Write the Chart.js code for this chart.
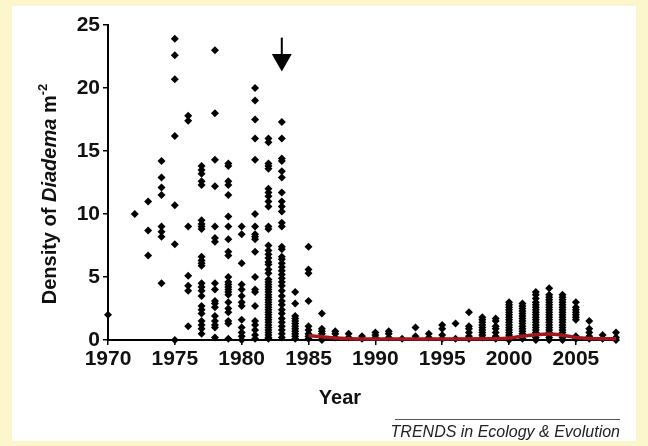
<!DOCTYPE html>
<html><head><meta charset="utf-8">
<script src="https://cdn.jsdelivr.net/npm/chart.js@4"></script>
<style>
html,body{margin:0;padding:0;background:#FBF6CB;overflow:hidden;}
#wrap{position:absolute;left:0;top:0;width:648px;height:446px;background:#FBF6CB;}
#panel{position:absolute;left:12px;top:6px;width:624px;height:435px;background:#ffffff;}
canvas{position:absolute;left:0;top:0;}
</style></head><body>
<div id="wrap"><div id="panel"></div><canvas id="c" width="648" height="446" style="width:648px;height:446px"></canvas></div>
<script>
// ---- data ----
const years = [1970,1972,1973,1974,1975,1976,1977,1978,1979,1980,1981,1982,1983,1984,
  1985,1986,1987,1988,1989,1990,1991,1992,1993,1994,1995,1996,1997,1998,1999,
  2000,2001,2002,2003,2004,2005,2006,2007,2008];
const densityByYear = [
  [2.0],
  [10.0],
  [11.0,8.7,6.7],
  [14.2,12.9,12.1,11.5,9.0,8.6,8.2,4.5],
  [23.9,22.6,20.7,16.2,10.7,7.6,0.0],
  [17.8,17.4,9.0,5.1,4.3,3.9,1.1],
  [13.8,13.5,13.2,12.6,12.3,9.5,9.2,9.0,8.8,6.6,6.3,6.1,5.9,4.5,4.2,3.9,3.5,2.7,2.4,2.1,1.5,1.2,0.9,0.5],
  [23.0,18.0,14.3,12.2,9.0,8.1,7.8,4.5,4.0,3.1,2.9,2.6,1.9,1.5,1.2,1.0,0.2],
  [14.0,13.8,12.6,12.3,11.5,9.8,9.0,8.0,7.0,6.7,5.0,4.6,4.4,4.2,4.0,3.8,3.6,3.0,2.5,2.2,1.5,1.3,0.1],
  [9.0,8.4,6.1,4.4,4.0,3.5,3.0,2.7,1.6,1.0,0.6,0.3,0.0],
  [20.0,19.0,17.5,16.0,14.3,10.0,9.0,8.4,8.2,8.0,7.0,5.0,4.0,3.8,2.7,1.5,1.2,0.8,0.4,0.1],
  [16.0,15.7,14.0,13.8,13.6,12.0,11.7,11.4,11.0,10.6,9.0,8.8,7.5,7.1,6.8,6.5,6.2,6.0,5.6,5.3,
   4.8,4.6,4.4,4.2,4.0,3.8,3.6,3.4,3.2,3.0,2.8,2.6,2.4,2.2,2.0,1.8,1.6,1.4,1.2,1.0,0.8,0.6,0.4,0.2,0.1],
  [17.3,16.0,14.4,14.2,13.4,12.9,11.7,11.0,10.6,10.2,9.3,9.0,7.4,7.2,6.6,6.4,6.1,5.8,5.5,5.2,
   4.9,4.6,4.3,3.9,3.5,3.1,2.8,2.4,2.1,1.7,1.4,1.1,0.8,0.5,0.2],
  [3.8,2.9,1.9,1.7,1.5,1.3,1.1,0.9,0.7,0.5,0.3,0.1],
  [7.4,5.6,5.3,3.1,1.1,0.8,0.5,0.3,0.1],
  [2.1,0.9,0.7,0.5,0.2,0.0],
  [0.7,0.5,0.2],
  [0.5,0.2],
  [0.3,0.1],
  [0.6,0.4,0.2],
  [0.7,0.5,0.2],
  [0.1],
  [1.0,0.3],
  [0.5,0.2],
  [1.2,0.9,0.4,0.1],
  [1.3,0.1],
  [2.2,1.1,0.9,0.6,0.3,0.1],
  [1.8,1.6,1.4,1.2,1.0,0.8,0.6,0.4,0.2],
  [1.7,1.5,1.1,0.9,0.6,0.3,0.1],
  [3.0,2.8,2.6,2.4,2.2,2.0,1.8,1.6,1.4,1.2,1.0,0.8,0.6,0.4,0.2,0.0],
  [2.9,2.7,2.5,2.3,2.1,1.9,1.7,1.5,1.3,1.1,0.9,0.7,0.5,0.3,0.1],
  [3.8,3.6,3.3,3.0,2.8,2.6,2.4,2.2,2.0,1.8,1.6,1.4,1.2,1.0,0.8,0.6,0.4,0.2,0.0],
  [4.1,3.6,3.4,3.2,3.0,2.8,2.6,2.4,2.2,2.0,1.8,1.6,1.4,1.2,1.0,0.8,0.6,0.4,0.2,0.0],
  [3.6,3.4,3.2,3.0,2.8,2.6,2.4,2.2,2.0,1.8,1.6,1.4,1.2,1.0,0.8,0.6,0.4,0.2,0.0],
  [3.0,2.6,2.4,2.2,2.0,1.8,1.6,0.3,0.1],
  [1.5,0.9,0.6,0.3,0.1],
  [0.4,0.1],
  [0.6,0.2,0.0]
];
const trendYears  = [1985,1986,1987,1988,1990,1995,1999,2000,2001,2002,2003,2004,2005,2006,2007,2008];
const trendValues = [0.35,0.25,0.15,0.10,0.08,0.08,0.10,0.15,0.30,0.42,0.48,0.38,0.20,0.12,0.10,0.10];
const xTicks = [1970,1975,1980,1985,1990,1995,2000,2005];
const yTicks = [0,5,10,15,20,25];
const arrowYear = 1983;
const arrowFrom = 24.0, arrowHeadBase = 22.7, arrowTip = 21.3;

// ---- build ----
const points = [];
years.forEach((yr, i) => densityByYear[i].forEach(v => points.push({x: yr, y: v})));
const trend = trendYears.map((yr, i) => ({x: yr, y: trendValues[i]}));

const FONT = '"Liberation Sans", Arial, sans-serif';

const annot = {
  id: 'annot',
  afterDraw(chart) {
    const {ctx, scales: {x, y}} = chart;
    ctx.save();
    // arrow
    const ax = x.getPixelForValue(arrowYear);
    const y0 = y.getPixelForValue(arrowFrom), yh = y.getPixelForValue(arrowHeadBase), yt = y.getPixelForValue(arrowTip);
    ctx.strokeStyle = '#000'; ctx.fillStyle = '#000'; ctx.lineWidth = 2;
    ctx.beginPath(); ctx.moveTo(ax, y0); ctx.lineTo(ax, yh + 1); ctx.stroke();
    ctx.beginPath(); ctx.moveTo(ax - 10, yh); ctx.lineTo(ax + 10, yh); ctx.lineTo(ax, yt); ctx.closePath(); ctx.fill();
    // x title
    ctx.fillStyle = '#111';
    ctx.font = 'bold 20px ' + FONT;
    ctx.textAlign = 'center'; ctx.textBaseline = 'middle';
    ctx.fillText('Year', 340, 398);
    // y title (mixed styles)
    const segs = [
      {t: 'Density of ', f: 'bold 20px ' + FONT, dy: 0},
      {t: 'Diadema', f: 'italic bold 20px ' + FONT, dy: 0},
      {t: ' m', f: 'bold 20px ' + FONT, dy: 0},
      {t: '-2', f: 'bold 13px ' + FONT, dy: -7}
    ];
    let total = 0;
    segs.forEach(s => { ctx.font = s.f; s.w = ctx.measureText(s.t).width; total += s.w; });
    ctx.translate(50, 194); ctx.rotate(-Math.PI / 2);
    ctx.textAlign = 'left'; ctx.textBaseline = 'middle';
    let cx = -total / 2;
    segs.forEach(s => { ctx.font = s.f; ctx.fillText(s.t, cx, s.dy); cx += s.w; });
    ctx.restore();
    // footer
    ctx.save();
    ctx.strokeStyle = '#555'; ctx.lineWidth = 1;
    ctx.beginPath(); ctx.moveTo(395, 419.5); ctx.lineTo(620, 419.5); ctx.stroke();
    ctx.fillStyle = '#222';
    ctx.font = 'italic 16px ' + FONT;
    ctx.textAlign = 'right'; ctx.textBaseline = 'middle';
    ctx.fillText('TRENDS in Ecology & Evolution', 620, 433);
    ctx.restore();
  }
};

new Chart(document.getElementById('c'), {
  type: 'scatter',
  data: {
    datasets: [
      {data: trend, order: 1, showLine: true, pointRadius: 0, borderColor: '#A3171D', borderWidth: 3.5, tension: 0.4, cubicInterpolationMode: 'monotone', fill: false, clip: false},
      {data: points, order: 2, pointStyle: 'rectRot', pointRadius: 4, backgroundColor: '#000', borderColor: '#000', borderWidth: 0, clip: false}
    ]
  },
  options: {
    responsive: false,
    animation: false,
    events: [],
    layout: {padding: {left: 48, top: 25, right: 32, bottom: 66}},
    plugins: {legend: {display: false}, tooltip: {enabled: false}},
    scales: {
      x: {
        type: 'linear', min: 1970, max: 2008,
        afterBuildTicks: s => { s.ticks = xTicks.map(v => ({value: v})); },
        afterFit: s => { s.height = 40; },
        border: {display: true, color: '#000', width: 2},
        grid: {display: true, drawOnChartArea: false, drawTicks: true, tickLength: 5, color: '#000', lineWidth: 1.5},
        ticks: {color: '#111', font: {family: FONT, size: 21, weight: 'bold'}, padding: 2, maxRotation: 0, autoSkip: false,
                callback: v => String(v)}
      },
      y: {
        min: 0, max: 25,
        afterBuildTicks: s => { s.ticks = yTicks.map(v => ({value: v})); },
        afterFit: s => { s.width = 60; },
        border: {display: true, color: '#000', width: 2},
        grid: {display: true, drawOnChartArea: false, drawTicks: true, tickLength: 5, color: '#000', lineWidth: 1.5},
        ticks: {color: '#111', font: {family: FONT, size: 21, weight: 'bold'}, padding: 3}
      }
    }
  },
  plugins: [annot]
});
</script>
</body></html>
